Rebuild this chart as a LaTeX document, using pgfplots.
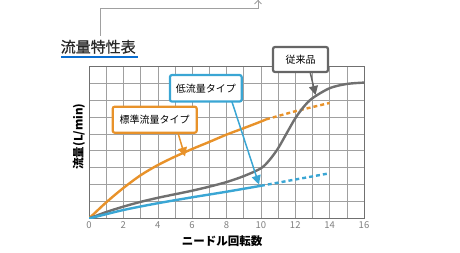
\documentclass[border=0pt]{standalone}
\usepackage{pgfplots}
\pgfplotsset{compat=1.18}
\usepackage{fontspec}
\setmainfont{Noto Sans CJK JP}
\newfontfamily\titlefont{Noto Sans CJK JP}[FakeBold=0.8]
\usetikzlibrary{arrows.meta}
\definecolor{cOrange}{HTML}{E8922A}
\definecolor{cBlue}{HTML}{3AA6D4}
\definecolor{cGray}{HTML}{707070}
\definecolor{cBox}{HTML}{666666}
\definecolor{cGrid}{HTML}{A0A0A0}
\definecolor{cTitle}{HTML}{0A6ED1}
\begin{document}
\begin{tikzpicture}[x=1pt,y=1pt]
\useasboundingbox (0,0) rectangle (460,253);
% connector line
\draw[color=cGrid, line width=0.8pt] (100,217) -- (100,245) -- (258,245) -- (258,252.5);
\draw[color=cGrid, line width=0.8pt] (254.5,249) -- (258,252.5) -- (261.5,249);
% title
\node[anchor=base west, inner sep=0pt, text=black!85, font=\titlefont\fontsize{15}{16}\selectfont] at (60.5,200.5) {流量特性表};
\draw[color=cTitle, line width=2pt] (61,195.5) -- (138,195.5);
\begin{axis}[
  at={(89pt,34.5pt)}, anchor=south west,
  width=275pt, height=152.5pt, scale only axis,
  xmin=0, xmax=16, ymin=0, ymax=9,
  xtick={0,2,...,16}, minor x tick num=1,
  ytick={0,1,...,9}, yticklabels={},
  grid=both,
  major grid style={color=cGrid, line width=0.5pt},
  minor grid style={color=cGrid, line width=0.5pt},
  axis line style={color=cGray, line width=1pt},
  tick style={draw=none},
  /pgf/number format/assume math mode=true,
  xticklabel style={font=\fontsize{9.5}{10}\selectfont, text=black!50, yshift=0.5pt},
]
% standard flow type (orange)
\addplot[color=cOrange, line width=2.4pt, smooth] coordinates {
 (0,0) (1,0.95) (2,1.8) (3,2.55) (4,3.15) (5,3.65) (6,4.1) (7,4.52) (8,4.95) (9,5.33) (10,5.72) (10.3,5.85)};
\addplot[color=cOrange, line width=2.4pt, dash pattern=on 4pt off 3pt] coordinates {
 (10.3,5.85) (12,6.33) (14,6.82)};
% conventional (gray)
\addplot[color=cGray, line width=2.4pt, smooth] coordinates {
 (0,0) (1,0.38) (2,0.7) (3,0.98) (4,1.22) (5,1.43) (6,1.64) (7,1.88) (8,2.15) (9,2.5) (10,2.96) (10.5,3.45) (11,4.14) (11.5,5.03) (12,5.91) (12.5,6.6) (13,7.1) (14,7.69) (15,7.94) (16,8.02)};
% low flow type (blue)
\addplot[color=cBlue, line width=2.4pt, smooth] coordinates {
 (0,0) (2,0.5) (4,0.9) (6,1.25) (8,1.58) (10,1.93)};
\addplot[color=cBlue, line width=2.4pt, dash pattern=on 4pt off 3pt] coordinates {
 (10,1.93) (12,2.3) (14,2.67)};
\end{axis}
% axis labels
\node[font=\fontsize{11.5}{12}\bfseries\selectfont, text=black] at (222,11.5) {ニードル回転数};
\node[font=\fontsize{11.5}{12}\bfseries\selectfont, text=black, rotate=90] at (79,116.5) {流量(L/min)};
% annotation arrows
\draw[color=cOrange, line width=1.5pt, -{Triangle[width=9pt,length=9pt]}] (177.7,121) -- (185,96.5);
\draw[color=cBlue, line width=1.5pt, -{Triangle[width=9pt,length=9pt]}] (231.7,152) -- (259,68.5);
\draw[color=cBox, line width=1.5pt, -{Triangle[width=9pt,length=9pt]}] (310,181.5) -- (315.5,158);
% annotation boxes
\node[draw=cOrange, line width=2.2pt, fill=white, rounded corners=2pt, minimum width=84pt, minimum height=26pt, inner sep=0pt, font=\fontsize{10}{11}\selectfont] at (154.7,133.3) {標準流量タイプ};
\node[draw=cBlue, line width=2.2pt, fill=white, rounded corners=2pt, minimum width=71.7pt, minimum height=26.5pt, inner sep=0pt, font=\fontsize{10}{11}\selectfont] at (205.8,164.7) {低流量タイプ};
\node[draw=cBox, line width=2.2pt, fill=white, rounded corners=2pt, minimum width=55pt, minimum height=25pt, inner sep=0pt, font=\fontsize{10}{11}\selectfont] at (300.5,193.5) {従来品};
\end{tikzpicture}
\end{document}
